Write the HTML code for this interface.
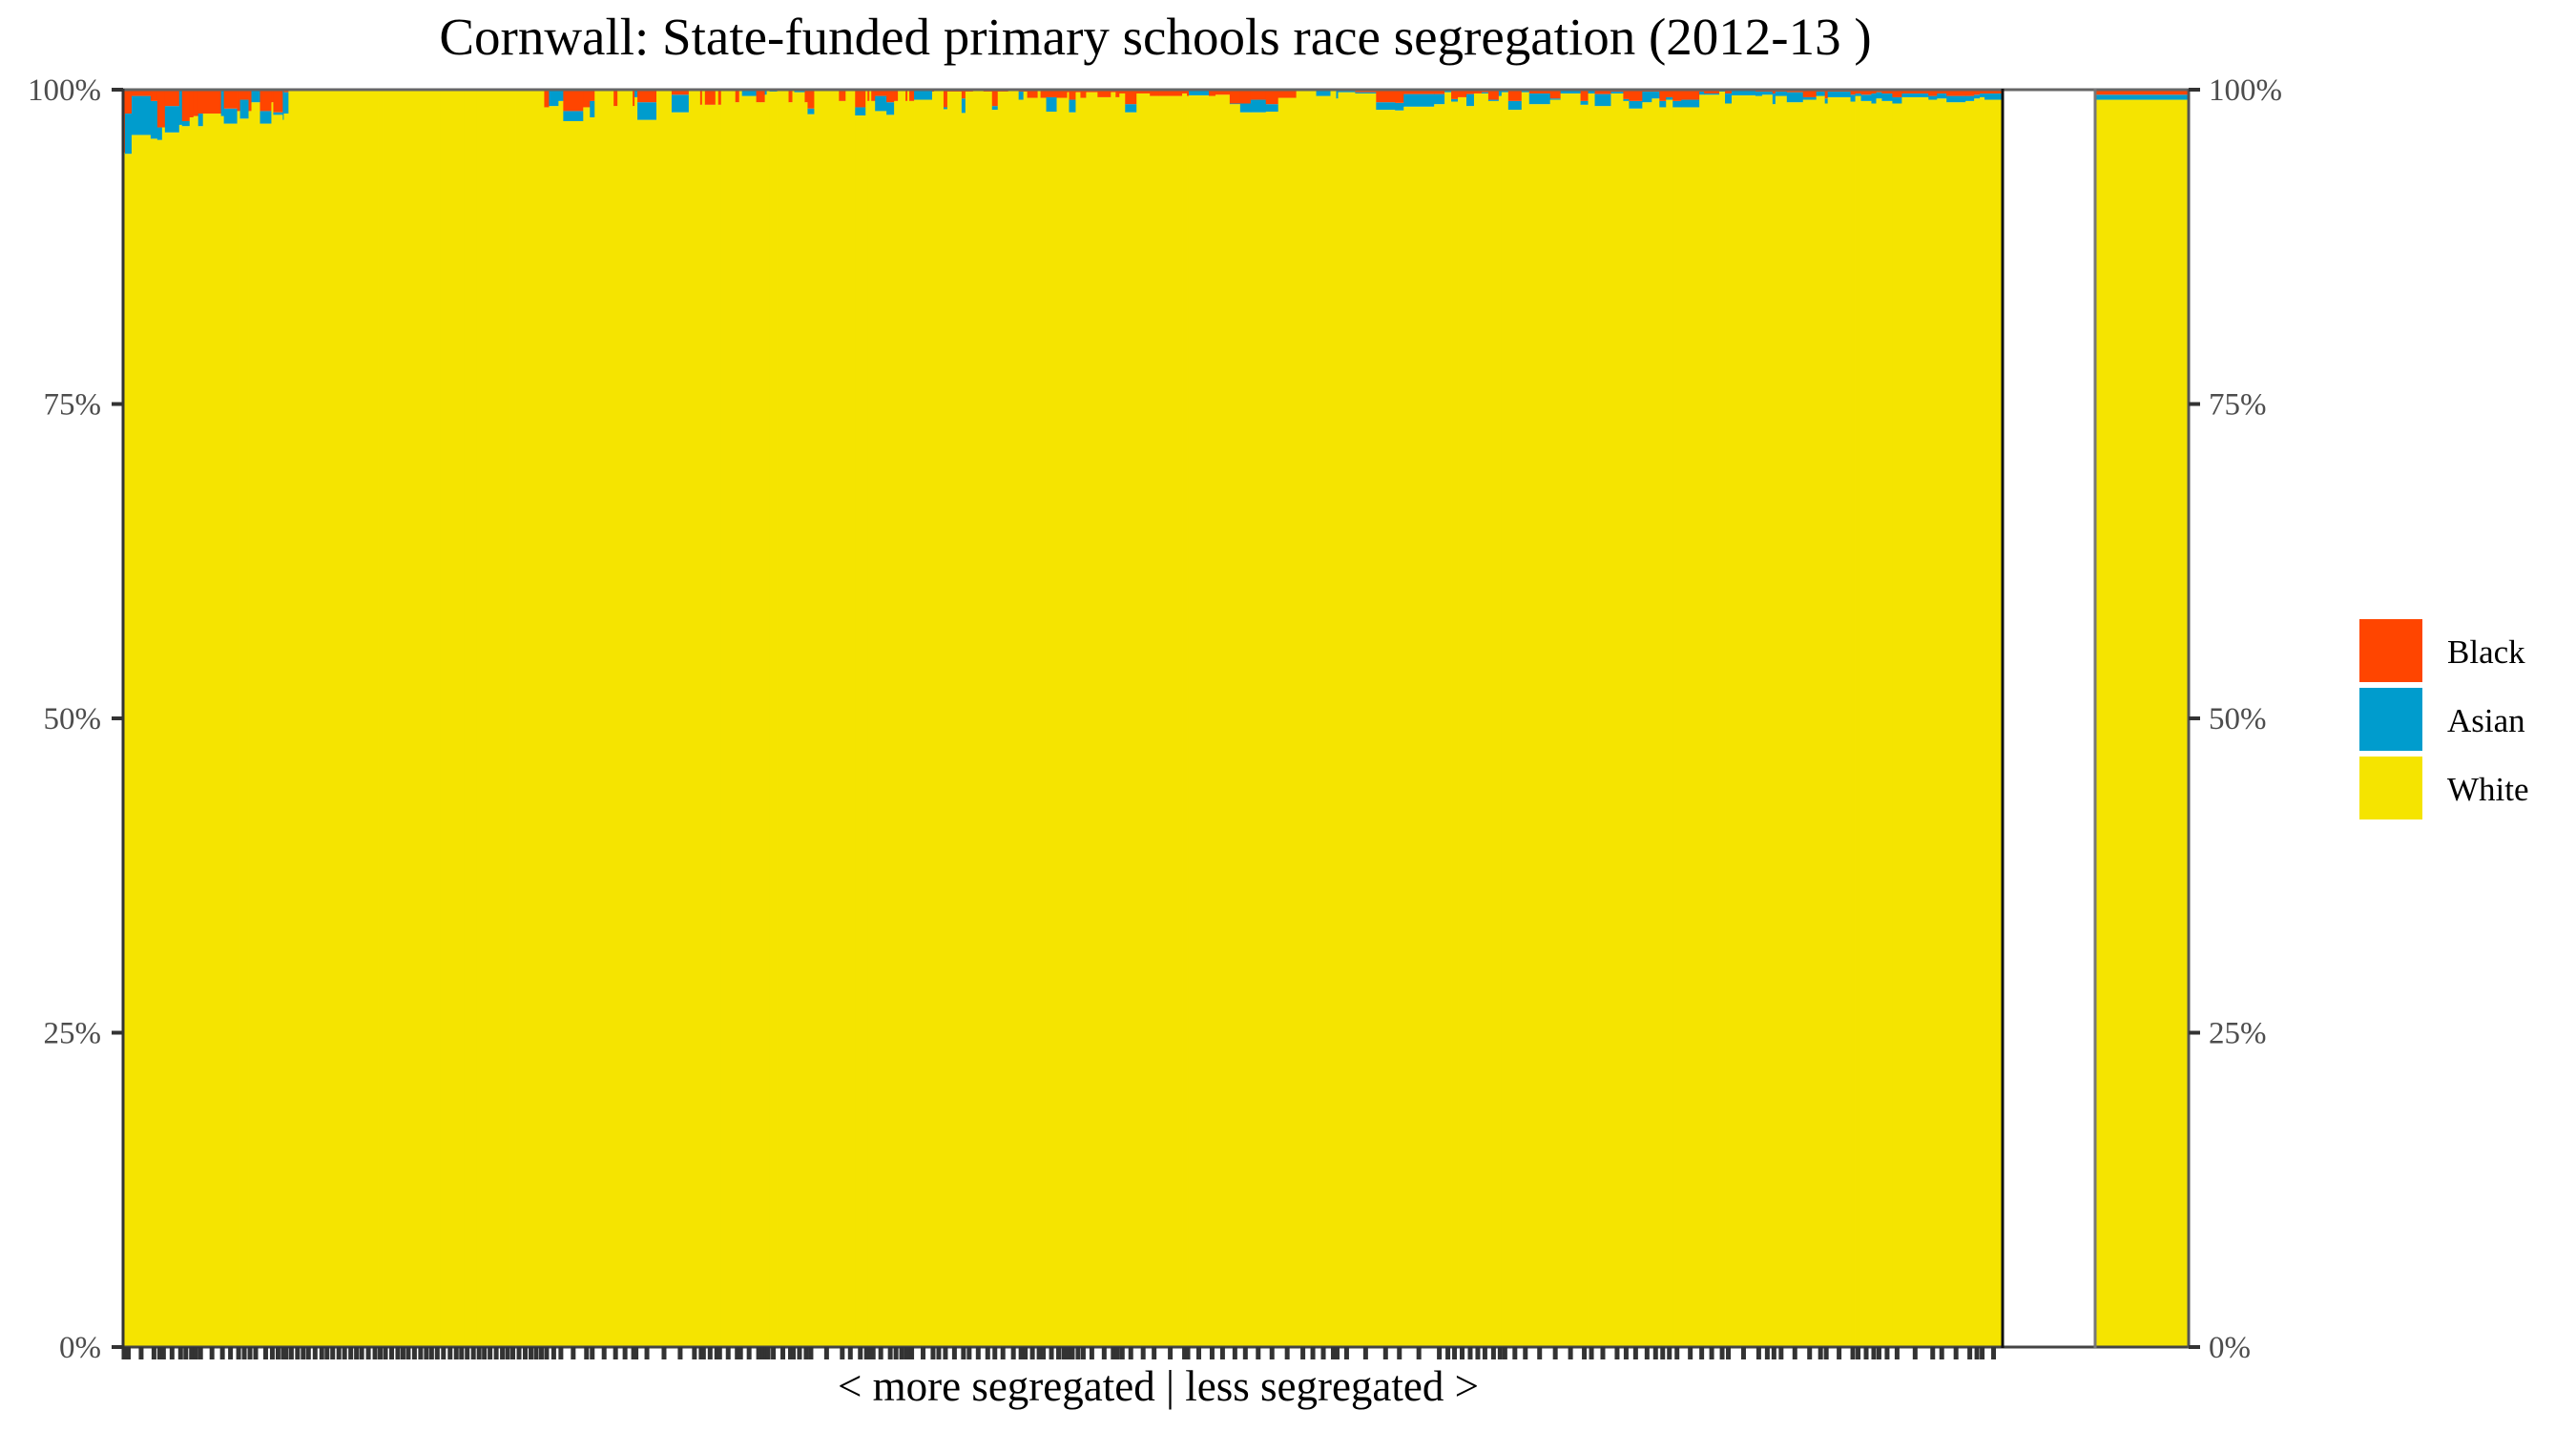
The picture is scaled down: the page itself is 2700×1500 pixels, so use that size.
<!DOCTYPE html>
<html><head><meta charset="utf-8">
<style>
html,body{margin:0;padding:0;background:#fff;}
svg{display:block;}
text{font-family:"Liberation Serif",serif;}
</style></head>
<body>
<svg id="chart" width="2700" height="1500" viewBox="0 0 2700 1500">
  <text x="1211" y="57" font-size="55" text-anchor="middle" fill="#000">Cornwall: State-funded primary schools race segregation (2012-13 )</text>
  <g id="bars"></g>
  <g id="overall"></g>
  <g id="frame">
    <line x1="129" y1="94" x2="2294" y2="94" stroke="#666" stroke-width="3"/>
    <line x1="129" y1="1412" x2="2294" y2="1412" stroke="#444" stroke-width="3"/>
    <line x1="129" y1="93" x2="129" y2="1413" stroke="#333" stroke-width="3"/>
    <line x1="2099" y1="93" x2="2099" y2="1413" stroke="#111" stroke-width="3"/>
    <line x1="2196" y1="93" x2="2196" y2="1413" stroke="#777" stroke-width="3"/>
    <line x1="2294" y1="93" x2="2294" y2="1413" stroke="#555" stroke-width="3"/>
  </g>
  <g id="yaxis-left"></g>
  <g id="yaxis-right"></g>
  <g id="xticks"></g>
  <text x="1214" y="1468" font-size="45" text-anchor="middle" fill="#000">&lt; more segregated | less segregated &gt;</text>
  <g>
    <rect x="2473" y="649" width="66" height="66" fill="#ff4500"/>
    <text x="2565" y="695" font-size="35" fill="#000">Black</text>
    <rect x="2473" y="721" width="66" height="66" fill="#009ccd"/>
    <text x="2565" y="767" font-size="35" fill="#000">Asian</text>
    <rect x="2473" y="793" width="66" height="66" fill="#f5e400"/>
    <text x="2565" y="839" font-size="35" fill="#000">White</text>
  </g>
</svg>
<script>
// School data: relative size (pupils), % black, % asian (white = remainder)
const schoolSizes = [2,7,20,7,5,3,15,3,8,4,5,5,19,3,14,3,9,3,9,12,2,10,1,5,
6,7,5,6,8,6,5,7,6,6,7,5,6,8,6,5,6,7,6,5,6,7,6,6,5,7,6,8,5,6,6,7,5,6,6,7,6,5,6,7,6,6,5,6,
5,10,5,21,7,5,20,4,16,2,3,20,16,18,12,2,3,11,3,3,15,4,3,15,5,
4,2,3,8,12,4,2,11,3,7,26,7,10,11,2,2,2,4,12,8,4,8,2,2,5,19,2,10,4,15,4,8,11,9,6,11,11,5,4,11,3,6,11,4,7,2,7,5,6,12,14,5,4,6,12,14,9,25,5,2,21,7,15,11,11,16,13,19,14,7,15,6,2,18,22,20,
9,32,11,7,7,9,8,8,7,11,3,7,14,8,22,11,21,8,7,17,13,6,14,10,8,7,7,9,19,5,16,6,7,25,7,11,3,12,17,14,9,3,24,5,6,11,5,6,11,10,28,9,10,20,9,6,5,19];
const blackPct = [5,1.9,0.5,0.9,3,3,1.3,0,2.5,2.2,2.1,1.9,1.9,0,1.5,1.7,0.8,1.7,0,1.7,1,1.8,0,0.2,
0,0,0,0,0,0,0,0,0,0,0,0,0,0,0,0,0,0,0,0,0,0,0,0,0,0,0,0,0,0,0,0,0,0,0,0,0,0,0,0,0,0,0,0,
1.4,0,0,1.7,1.4,0.9,0,1.3,0,1.3,0,1,0,0.4,0,1.2,0,1.2,0,1.2,0,1,0,0,1,
1,0,0,0,0,1,0,0,1,1.5,0,0.9,0,1.4,0,0.9,0,0.9,0.5,1,0.9,0,0.9,0,0.9,0,0.15,0,1.4,0.15,0.7,0.15,0,0.15,1.3,0.15,0,0.15,0.15,0.65,0,0.65,0.6,0.65,0.65,0.2,0.8,0.2,0.65,0.2,0.6,0.2,0.6,0.3,1.15,0.3,0.5,0.5,0.3,0.5,0.05,0.5,0.4,1.1,1.1,0.8,1.15,0.65,0.05,0.1,0.1,0.1,0,0.1,0.2,1,
1.05,0.35,0.35,0,0.75,0.6,0.35,0.3,0.2,0.8,0,0,0.9,0,0.3,0.7,0,0.9,0,0.35,0.15,0.75,0.9,0.15,0.15,0.9,0.6,0.9,0.8,0.15,0.3,0,0.3,0.05,0.15,0.15,0.3,0.15,0.2,0.6,0.15,0.7,0.15,0.4,0.3,0.4,0.3,0.2,0.3,0.6,0.3,0.5,0.3,0.5,0.5,0.4,0.3,0.3];
const asianPct = [0,3.2,3.1,3,1,0,2.1,2.8,0.4,0,0,1,0,2.1,1.2,0,1.5,0,1,1,0,0.2,2.4,1.7,
0,0,0,0,0,0,0,0,0,0,0,0,0,0,0,0,0,0,0,0,0,0,0,0,0,0,0,0,0,0,0,0,0,0,0,0,0,0,0,0,0,0,0,0,
0,1.3,0.9,0.8,0,1.3,0,0,0,0,0.6,1.4,0,1.4,0,0,0,0,0,0,0,0,0,0.5,0,
0,0.4,0,0.15,0,0,0,0.2,0,0.45,0,0,0,0.65,0,0,0,0,1.2,1,0,0,0,0,0,0.8,0,0,0.15,0,1.15,0,0,0,0.3,0,0,0.65,0,0,0,0,1.15,0,0,0,1,0,0,0,0,0,0,0,0.65,0,0,0,0,0,0.4,0,0,0.05,0.7,1,0.6,0,0.05,0,0.4,0,0.7,0.1,0.1,0.6,
0.6,1.0,0.8,0.2,0.2,0,0.95,0,0.1,0.1,0.5,0.2,0.7,0.2,0.85,0.1,0.3,0.3,0.3,0.95,0.15,0.15,0.6,0.85,0.55,0.5,0.2,0.5,0.6,0.25,0.1,0.15,0.8,0.4,0.35,0.25,0.85,0.35,0.8,0.2,0.35,0.4,0.45,0.55,0.2,0.5,0.8,0.5,0.6,0.5,0.3,0.3,0.4,0.5,0.4,0.3,0.3,0.5];
// Overall Cornwall composition
const overallBlack = 0.4;
const overallAsian = 0.4;
const yTicks = [0,25,50,75,100];
const yTickLabels = ["0%","25%","50%","75%","100%"];

const NS = "http://www.w3.org/2000/svg";
const X0 = 129, X1 = 2099, YTOP = 94, YBOT = 1412;
const totalSize = schoolSizes.reduce((s,v)=>s+v,0);
function xScale(cum){ return X0 + (X1 - X0) * cum / totalSize; }
function yScale(p){ return YBOT - (YBOT - YTOP) * p / 100; }
const COL_B = "#ff4500", COL_A = "#009ccd", COL_W = "#f5e400";

function mk(tag, attrs, parent){
  const el = document.createElementNS(NS, tag);
  for (const k in attrs) el.setAttribute(k, attrs[k]);
  parent.appendChild(el);
  return el;
}

const bars = document.getElementById("bars");
const ticks = document.getElementById("xticks");
let cum = 0;
for (let i = 0; i < schoolSizes.length; i++){
  const xa = xScale(cum), xb = xScale(cum + schoolSizes[i]);
  const w = Math.max(xb - xa, 0.5) + 0.4;
  const b = blackPct[i] || 0, a = asianPct[i] || 0;
  const white = 100 - b - a;
  const rw = mk("rect", {x:xa, y:yScale(white), width:w, height:yScale(0)-yScale(white), fill:COL_W}, bars);
  
  
  if (a > 0){
    const ra = mk("rect", {x:xa, y:yScale(white + a), width:w, height:yScale(white)-yScale(white+a), fill:COL_A}, bars);
    
    
  }
  if (b > 0){
    const rb = mk("rect", {x:xa, y:yScale(100), width:w, height:yScale(white+a)-yScale(100), fill:COL_B}, bars);
    
    
  }
  const xc = (xa + xb) / 2;
  const t = mk("rect", {x:xc - 2.5, y:1412, width:5, height:13, fill:"#333"}, ticks);
  
  
  cum += schoolSizes[i];
}

// overall panel
const ov = document.getElementById("overall");
const P0 = 2196, P1 = 2294;
const ow = 100 - overallBlack - overallAsian;
const o1 = mk("rect", {x:P0, y:yScale(ow), width:P1-P0, height:yScale(0)-yScale(ow), fill:COL_W}, ov);


const o2 = mk("rect", {x:P0, y:yScale(ow+overallAsian), width:P1-P0, height:yScale(ow)-yScale(ow+overallAsian), fill:COL_A}, ov);


const o3 = mk("rect", {x:P0, y:yScale(100), width:P1-P0, height:yScale(ow+overallAsian)-yScale(100), fill:COL_B}, ov);



// y axes
const yl = document.getElementById("yaxis-left");
const yr = document.getElementById("yaxis-right");
for (let i = 0; i < yTicks.length; i++){
  const y = yScale(yTicks[i]);
  const tl = mk("line", {x1:117, y1:y, x2:129, y2:y, stroke:"#333", "stroke-width":4}, yl);
  
  
  const ll = mk("text", {x:106, y:y + 11, "font-size":33, "text-anchor":"end", fill:"#4d4d4d"}, yl);
  ll.textContent = yTickLabels[i];
  
  
  const tr = mk("line", {x1:2294, y1:y, x2:2306, y2:y, stroke:"#333", "stroke-width":4}, yr);
  
  
  const lr = mk("text", {x:2315, y:y + 11, "font-size":33, "text-anchor":"start", fill:"#4d4d4d"}, yr);
  lr.textContent = yTickLabels[i];
  
  
}
</script>
</body></html>
